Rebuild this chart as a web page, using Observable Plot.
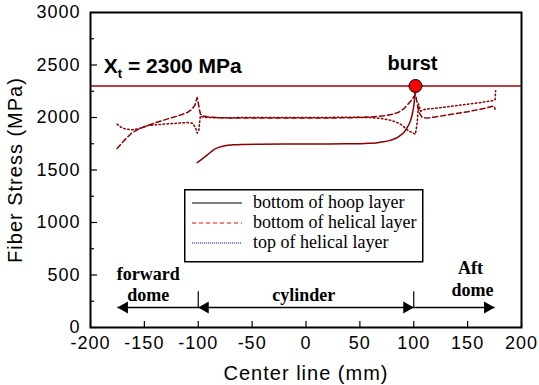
<!DOCTYPE html>
<html><head><meta charset="utf-8">
<script src="https://cdn.jsdelivr.net/npm/d3@7"></script>
<script src="https://cdn.jsdelivr.net/npm/@observablehq/plot@0.6"></script>
<style>
body{margin:0;background:#fff;}
#wrap{position:relative;width:539px;height:385px;overflow:hidden;}
#wrap svg{display:block;}
g[aria-label$="tick label"] text{letter-spacing:1px;}
#legend{position:absolute;left:184px;top:189px;}
</style></head><body><div id="wrap"></div>
<script>
// ---- data ----
const hoopX = [-101, -96, -91, -86, -81, -75, -68, -60, -45, -20, 0, 20, 40, 55, 65, 72, 78, 83, 87, 91, 94, 97, 99, 100.5, 101.6];
const hoopY = [1571, 1608, 1648, 1690, 1715, 1732, 1740, 1744, 1746, 1747, 1747, 1748, 1750, 1753, 1758, 1768, 1782, 1800, 1825, 1860, 1905, 1970, 2050, 2150, 2290];

const helBotX = [-175.3, -171, -167.5, -161.3, -155, -147.5, -140, -132, -124, -116.5, -110, -106, -103, -101, -99.5, -98, -95, -91.7, -85, -70, -40, 0, 40, 60, 72, 80, 86, 91, 95, 98.5, 101.6, 103.5, 105, 107.8, 112.4, 120, 135, 150, 165, 174.3, 175.5];
const helBotY = [1705, 1755, 1794, 1857, 1890, 1921, 1950, 1975, 2000, 2023, 2048, 2075, 2120, 2190, 2110, 2032, 2015, 2007, 2000, 1995, 1995, 1995, 1997, 2005, 2016, 2030, 2050, 2085, 2130, 2170, 2223, 2120, 2048, 2000, 1994, 2005, 2030, 2055, 2085, 2111, 2080];

const helTopX = [-175.3, -172, -168, -161.3, -155, -147.5, -140, -132, -120, -110, -105, -102.5, -101, -99.5, -98, -95, -90, -80, -40, 0, 40, 60, 70, 78, 84, 88, 92, 95.5, 98.5, 101.6, 103.2, 104.5, 106.3, 110.9, 118.6, 130, 145, 160, 172.7, 175.5, 176];
const helTopY = [1937, 1910, 1892, 1883, 1895, 1921, 1930, 1937, 1945, 1952, 1945, 1900, 1851, 1880, 2016, 2000, 2000, 1998, 2000, 2000, 2002, 2000, 1990, 1975, 1955, 1935, 1900, 1870, 1857, 1841, 1953, 2130, 2060, 2080, 2086, 2100, 2120, 2140, 2159, 2170, 2255];

const xTicks = [-200, -150, -100, -50, 0, 50, 100, 150, 200];
const yTicks = [0, 500, 1000, 1500, 2000, 2500, 3000];
const yMinor = [250, 750, 1250, 1750, 2250, 2750];

const strength = 2300;
const strengthLabel = {x: -187.7, y: 2428, main: "X", sub: "t", rest: " = 2300 MPa"};
const burst = {x: 101.6, y: 2300, label: "burst", lx: 98.8, ly: 2454};

const regionLabels = [
  {x: -146.4, y: 451, text: "forward"},
  {x: -146.4, y: 254, text: "dome"},
  {x: -2.0, y: 254, text: "cylinder"},
  {x: 152.7, y: 509, text: "Aft"},
  {x: 154.5, y: 302, text: "dome"}
];
const arrowY = 190;
const arrowSpan = [{x1: -175, x2: 175}];
const dividers = [-100, 100];
const dividerTop = 340;
const headsLeft = [-175, -100];
const headsRight = [100, 175];

const legendItems = [
  {label: "bottom of hoop layer", color: "#000000", dash: null, width: 1.2},
  {label: "bottom of helical layer", color: "#ff0000", dash: "4,3", width: 1.2},
  {label: "top of helical layer", color: "#0000ff", dash: "1,1", width: 1}
];

const curveColor = "#8b0000";
const toRows = (xs, ys) => xs.map((x, i) => ({x, y: ys[i]}));
const plain = d => String(d);

const plot = Plot.plot({
  width: 539, height: 385,
  marginLeft: 90, marginRight: 18, marginTop: 12, marginBottom: 58,
  style: {fontFamily: "'Liberation Sans', Arial, sans-serif", fontSize: "18px", color: "#000", background: "#fff", overflow: "visible"},
  x: {domain: [-200, 200]},
  y: {domain: [0, 3000]},
  marks: [
    Plot.ruleY([strength], {stroke: "#a00000", strokeWidth: 1.5}),
    Plot.line(toRows(hoopX, hoopY), {x: "x", y: "y", stroke: curveColor, strokeWidth: 1.5, curve: "monotone-x"}),
    Plot.line(toRows(helBotX, helBotY), {x: "x", y: "y", stroke: curveColor, strokeWidth: 1.5, strokeDasharray: "5,3"}),
    Plot.line(toRows(helTopX, helTopY), {x: "x", y: "y", stroke: curveColor, strokeWidth: 1.5, strokeDasharray: "1.5,2.5"}),
    Plot.dot([burst], {x: "x", y: "y", r: 6.5, fill: "#ff0000", stroke: "#000", strokeWidth: 1}),
    Plot.text([burst], {x: "lx", y: "ly", text: "label", textAnchor: "middle", lineAnchor: "bottom", fontSize: 20, fontWeight: "bold"}),
    Plot.text([strengthLabel], {x: "x", y: "y", text: d => d.main + d.sub + d.rest, textAnchor: "start", lineAnchor: "bottom", fontSize: 21, fontWeight: "bold"}),
    // region annotations
    Plot.link(arrowSpan, {x1: "x1", x2: "x2", y1: () => arrowY, y2: () => arrowY, stroke: "#000", strokeWidth: 1.5}),
    Plot.ruleX(dividers, {y1: arrowY, y2: dividerTop, stroke: "#000", strokeWidth: 1.2}),
    Plot.dot(headsLeft, {x: d => d, y: () => arrowY, symbol: "triangle", r: 4.5, fill: "#000", stroke: null, rotate: -90, dx: 7}),
    Plot.dot(headsRight, {x: d => d, y: () => arrowY, symbol: "triangle", r: 4.5, fill: "#000", stroke: null, rotate: 90, dx: -7}),
    Plot.text(regionLabels, {x: "x", y: "y", text: "text", textAnchor: "middle", lineAnchor: "bottom", fontFamily: "'Liberation Serif', 'Times New Roman', serif", fontWeight: "bold", fontSize: 18}),
    // axes: inward ticks
    Plot.axisY(yTicks, {anchor: "right", frameAnchor: "left", tickSize: 6, tickFormat: () => "", label: null, strokeWidth: 1.2}),
    Plot.axisY(yMinor, {anchor: "right", frameAnchor: "left", tickSize: 3, tickFormat: () => "", label: null, strokeWidth: 1.2}),
    Plot.axisX(xTicks, {anchor: "top", frameAnchor: "bottom", tickSize: 7, tickFormat: () => "", label: null, strokeWidth: 1.2}),
    Plot.axisY(yTicks, {anchor: "left", tickSize: 0, tickPadding: 10, label: null, fontSize: 18, tickFormat: plain}),
    Plot.axisX(xTicks, {anchor: "bottom", tickSize: 0, tickPadding: 9, label: null, fontSize: 18, tickFormat: plain}),
    Plot.text(["Center line (mm)"], {frameAnchor: "bottom", dy: 46, fontSize: 20, lineAnchor: "middle", textAnchor: "middle"}),
    Plot.text(["Fiber Stress (MPa)"], {frameAnchor: "left", dx: -75, rotate: -90, fontSize: 20, lineAnchor: "middle", textAnchor: "middle"}),
    Plot.frame({stroke: "#000", strokeWidth: 2})
  ]
});

document.getElementById("wrap").appendChild(plot);

// subscript for X_t
d3.select(plot).selectAll("text").filter(function() {
  return this.textContent === strengthLabel.main + strengthLabel.sub + strengthLabel.rest;
}).each(function() {
  const t = d3.select(this);
  t.text(null);
  t.append("tspan").text(strengthLabel.main);
  t.append("tspan").attr("font-size", 13).attr("dy", 5).text(strengthLabel.sub);
  t.append("tspan").attr("dy", -5).text(strengthLabel.rest);
});
d3.select(plot).selectAll("text").style("letter-spacing", function() {
  const tc = this.textContent;
  return (tc === "Center line (mm)" || tc === "Fiber Stress (MPa)") ? "1px" : null;
});

// legend
const lg = d3.select("#wrap").append("svg").attr("id", "legend")
  .attr("width", 240).attr("height", 74);
lg.append("rect").attr("x", 0.75).attr("y", 0.75).attr("width", 238).attr("height", 72)
  .attr("fill", "#fff").attr("stroke", "#000").attr("stroke-width", 1.5);
const rows = lg.selectAll("g.item").data(legendItems).join("g").attr("class", "item")
  .attr("transform", (d, i) => `translate(0,${19 + i * 20})`);
rows.append("line").attr("x1", 8).attr("x2", 58).attr("y1", -5).attr("y2", -5)
  .attr("stroke", d => d.color).attr("stroke-width", d => d.width)
  .attr("stroke-dasharray", d => d.dash);
rows.append("text").attr("x", 69).attr("y", 0).text(d => d.label)
  .attr("font-family", "'Liberation Serif', 'Times New Roman', serif").attr("font-size", 18).attr("fill", "#000");
</script></body></html>
